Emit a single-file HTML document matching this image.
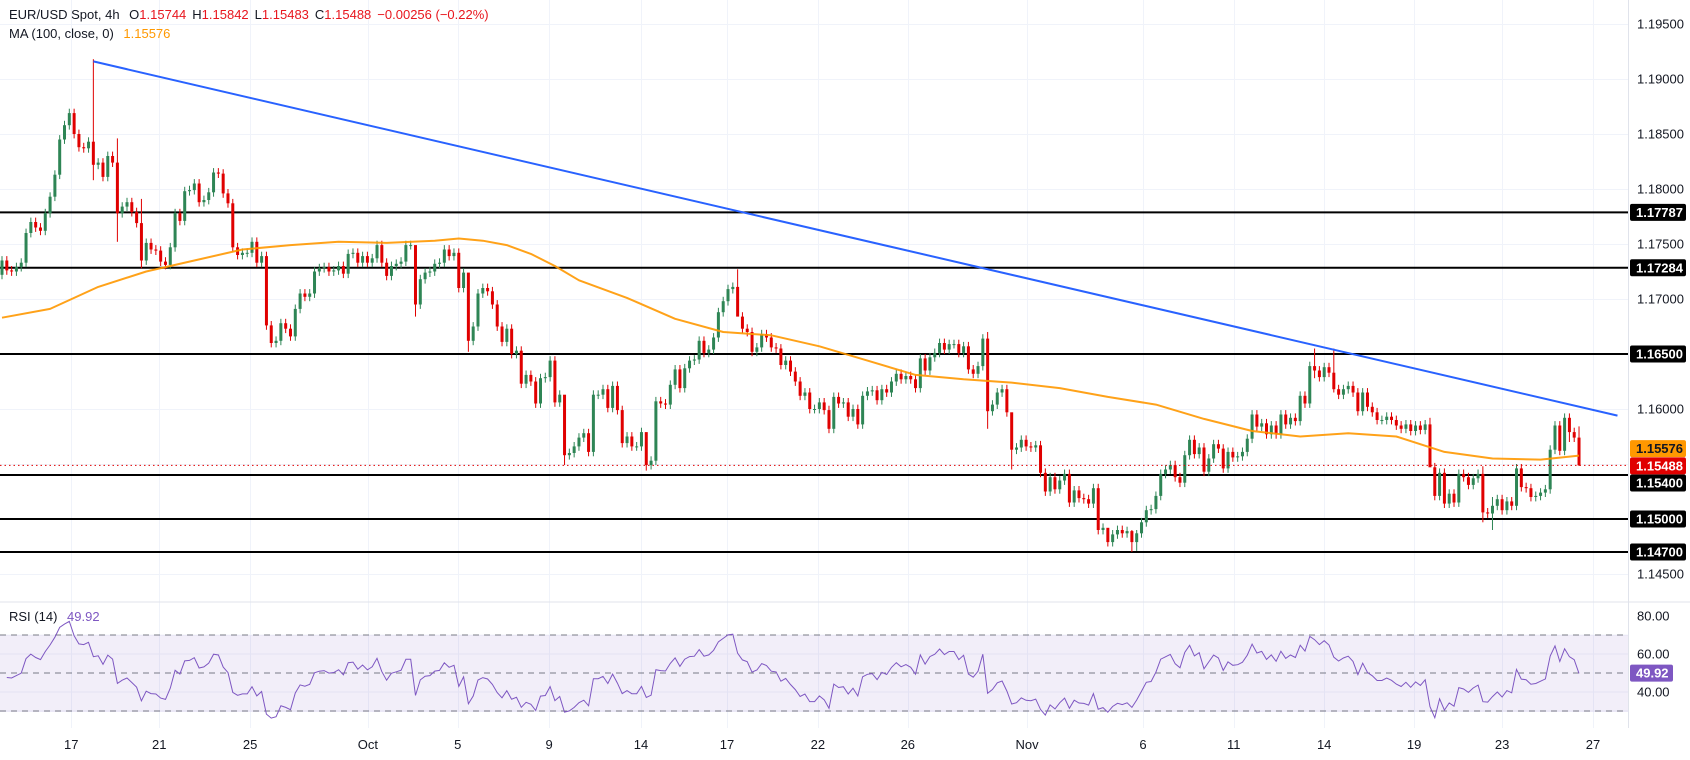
<!DOCTYPE html>
<html><head><meta charset="utf-8"><style>
html,body{margin:0;padding:0;background:#fff;}
svg{display:block;font-family:"Liberation Sans",sans-serif;}
</style></head><body>
<svg id="chart" width="1690" height="760" viewBox="0 0 1690 760" xmlns="http://www.w3.org/2000/svg">
<rect x="0" y="0" width="1690" height="760" fill="#ffffff"/>
<g id="grid"></g>
<rect x="0" y="635" width="1628" height="77" fill="#7e57c2" fill-opacity="0.1"/>
<g id="levels"></g>
<g id="candles"></g>
<g id="overlays"></g>
<g id="rsi"></g>
<g id="axes"></g>
<line x1="0" y1="602" x2="1690" y2="602" stroke="#e0e3eb" stroke-width="1"/>
<line x1="1628.5" y1="0" x2="1628.5" y2="728" stroke="#e0e3eb" stroke-width="1"/>
<text x="9" y="19" font-size="13" fill="#131722">EUR/USD Spot, 4h <tspan dx="6">O</tspan><tspan fill="#e8161e">1.15744</tspan><tspan dx="6">H</tspan><tspan fill="#e8161e">1.15842</tspan><tspan dx="6">L</tspan><tspan fill="#e8161e">1.15483</tspan><tspan dx="6">C</tspan><tspan fill="#e8161e">1.15488</tspan><tspan dx="6" fill="#e8161e">−0.00256 (−0.22%)</tspan></text>
<text x="9" y="38" font-size="13" fill="#131722">MA (100, close, 0) <tspan dx="6" fill="#ff9800">1.15576</tspan></text>
<text x="9" y="621" font-size="13" fill="#131722">RSI (14) <tspan dx="6" fill="#7e57c2">49.92</tspan></text>
</svg>
<script>
const closes=[1.1735,1.1726,1.1725,1.1729,1.1733,1.1760,1.1770,1.1765,1.1762,1.1778,
1.1793,1.1813,1.1845,1.1858,1.1869,1.1850,1.1838,1.1837,1.1843,1.1822,
1.1824,1.1811,1.1830,1.1824,1.1778,1.1784,1.1788,1.1779,1.1769,1.1735,
1.1751,1.1745,1.1744,1.1734,1.1731,1.1747,1.1778,1.1771,1.1798,1.1799,
1.1805,1.1788,1.1790,1.1797,1.1815,1.1814,1.1796,1.1787,1.1747,1.1740,
1.1742,1.1742,1.1752,1.1733,1.1739,1.1676,1.1660,1.1662,1.1678,1.1673,
1.1666,1.1691,1.1705,1.1702,1.1705,1.1725,1.1728,1.1729,1.1725,1.1726,
1.1730,1.1723,1.1741,1.1742,1.1733,1.1739,1.1733,1.1737,1.1749,1.1733,
1.1721,1.1730,1.1732,1.1734,1.1749,1.1749,1.1695,1.1718,1.1724,1.1725,
1.1732,1.1733,1.1745,1.1739,1.1742,1.1710,1.1724,1.1662,1.1675,1.1705,
1.1710,1.1707,1.1695,1.1675,1.1661,1.1673,1.1650,1.1653,1.1623,1.1631,
1.1625,1.1605,1.1628,1.1629,1.1644,1.1606,1.1613,1.1558,1.1560,1.1566,
1.1574,1.1578,1.1561,1.1613,1.1613,1.1618,1.1601,1.1621,1.1599,1.1569,
1.1575,1.1566,1.1566,1.1579,1.1549,1.1553,1.1607,1.1605,1.1604,1.1622,
1.1636,1.1619,1.1637,1.1644,1.1645,1.1662,1.1651,1.1654,1.1665,1.1688,
1.1698,1.1709,1.1711,1.1684,1.1673,1.1670,1.1652,1.1656,1.1668,1.1665,
1.1656,1.1655,1.1640,1.1644,1.1634,1.1625,1.1612,1.1615,1.1600,1.1600,
1.1606,1.1599,1.1582,1.1611,1.1605,1.1606,1.1593,1.1600,1.1586,1.1612,
1.1616,1.1617,1.1608,1.1618,1.1615,1.1625,1.1632,1.1627,1.1630,1.1627,
1.1619,1.1646,1.1635,1.1647,1.1651,1.1660,1.1654,1.1659,1.1659,1.1651,
1.1657,1.1636,1.1632,1.1639,1.1664,1.1598,1.1604,1.1615,1.1618,1.1597,
1.1563,1.1565,1.1572,1.1566,1.1565,1.1567,1.1542,1.1525,1.1538,1.1527,
1.1535,1.1541,1.1515,1.1526,1.1519,1.1518,1.1514,1.1528,1.1490,1.1492,
1.1479,1.1486,1.1490,1.1487,1.1489,1.1479,1.1487,1.1497,1.1508,1.1509,
1.1521,1.1541,1.1545,1.1549,1.1538,1.1533,1.1558,1.1572,1.1559,1.1565,
1.1543,1.1555,1.1568,1.1564,1.1546,1.1561,1.1556,1.1557,1.1561,1.1573,
1.1595,1.1584,1.1587,1.1577,1.1585,1.1577,1.1595,1.1586,1.1592,1.1589,
1.1612,1.1605,1.1639,1.1635,1.1629,1.1638,1.1633,1.1618,1.1613,1.1618,
1.1621,1.1615,1.1598,1.1615,1.1602,1.1597,1.1590,1.1590,1.1593,1.1590,
1.1585,1.1582,1.1586,1.1580,1.1585,1.1581,1.1586,1.1547,1.1521,1.1542,
1.1514,1.1523,1.1515,1.1541,1.1538,1.1531,1.1537,1.1541,1.1506,1.1505,
1.1512,1.1518,1.1508,1.1516,1.1512,1.1546,1.1529,1.1528,1.1520,1.1521,
1.1524,1.1527,1.1563,1.1585,1.1562,1.1592,1.1579,1.1574,1.15488];
const firstOpen=1.1722;
const wickIdx=[19,24,29,86,97,117,134,153,205,210,230,235,236,273,277,297,308,310,326,328];
const wickHigh=[1.1918,1.1846,1.1791,1.1732,1.1712,1.1562,1.1556,1.1727,1.1670,1.1568,1.1490,1.1490,1.1490,1.1655,1.1655,1.1592,1.1548,1.1520,1.1596,1.15842];
const wickLow=[1.1808,1.1752,1.1728,1.1684,1.1652,1.1549,1.1544,1.1705,1.1582,1.1545,1.1475,1.1470,1.1471,1.1628,1.1615,1.1570,1.1497,1.1490,1.1570,1.15483];
const defaultWickPips=[4];
const maIdx=[0,10,20,30,40,50,60,70,80,90,95,100,105,110,115,120,130,140,150,160,170,180,190,200,210,220,225,230,240,250,260,270,280,290,300,310,320,328];
const maVals=[1.1683,1.1691,1.1711,1.1725,1.1735,1.1745,1.1749,1.1752,1.1751,1.1753,1.1755,1.1753,1.1749,1.1741,1.1730,1.1717,1.1701,1.1682,1.1670,1.1667,1.1657,1.1644,1.1631,1.1627,1.1624,1.1619,1.1615,1.1611,1.1604,1.1591,1.1580,1.1575,1.1578,1.1575,1.1561,1.1555,1.1554,1.15576];
const trendIdx=[19,336];
const trendVals=[1.1916,1.1594];
const levels=[1.17787,1.17284,1.16500,1.15400,1.15000,1.14700];
const levelLabels=["1.17787","1.17284","1.16500","1.15400","1.15000","1.14700"];
const priceTicks=[1.195,1.19,1.185,1.18,1.175,1.17,1.165,1.16,1.155,1.15,1.145];
const priceTickLabels=["1.19500","1.19000","1.18500","1.18000","1.17500","1.17000","1.16500","1.16000","1.15500","1.15000","1.14500"];
const rsiTicks=[80,60,40];
const rsiTickLabels=["80.00","60.00","40.00"];
const rsiSeedAvg=[0.0007,0.0007];
const dateIdx=[14.4,32.7,51.6,76.1,94.8,113.8,132.9,150.8,169.7,188.4,213.2,237.3,256.2,275,293.7,312,330.9];
const dateLabels=["17","21","25","Oct","5","9","14","17","22","26","Nov","6","11","14","19","23","27"];
const lastPrice=[1.15488];
const maLast=[1.15576];
const rsiLast=[49.92];

const NS="http://www.w3.org/2000/svg";
const X=i=>2+4.808*i;
const Y=p=>24+(1.195-p)*11000;
const RY=v=>673-(v-50)*1.9;
function mk(tag,attrs,parent,txt){const e=document.createElementNS(NS,tag);for(const k in attrs)e.setAttribute(k,attrs[k]);if(txt!==undefined)e.textContent=txt;parent.appendChild(e);return e;}
const grid=document.getElementById('grid'),lv=document.getElementById('levels'),cg=document.getElementById('candles'),ov=document.getElementById('overlays'),rg=document.getElementById('rsi'),ax=document.getElementById('axes');

priceTicks.forEach((p,k)=>{const l=mk('line',{x1:0,x2:1628,y1:Y(p)+0.5,y2:Y(p)+0.5,stroke:'#f0f3fa','stroke-width':1},grid);


const t=mk('text',{x:1637,y:Y(p)+4.5,'font-size':13,fill:'#131722'},ax,priceTickLabels[k]);

});
[70,60,40,30].forEach(v=>{const l=mk('line',{x1:0,x2:1628,y1:RY(v),y2:RY(v),stroke:'#f0f3fa','stroke-width':1},grid);

});
dateIdx.forEach((d,k)=>{const x=Math.round(X(d))+0.5;const l=mk('line',{x1:x,x2:x,y1:0,y2:728,stroke:'#f0f3fa','stroke-width':1},grid);


const t=mk('text',{x:X(d),y:749,'font-size':13,fill:'#131722','text-anchor':'middle'},ax,dateLabels[k]);

});
rsiTicks.forEach((v,k)=>{const t=mk('text',{x:1637,y:RY(v)+4.5,'font-size':13,fill:'#131722'},ax,rsiTickLabels[k]);

});

levels.forEach((p,k)=>{const l=mk('line',{x1:0,x2:1628,y1:Y(p),y2:Y(p),stroke:'#000',"stroke-width":2},lv);

});

const wk=defaultWickPips[0]/10000;
closes.forEach((c,i)=>{const o=i===0?firstOpen:closes[i-1];let hi=Math.max(o,c)+wk,lo=Math.min(o,c)-wk;const w=wickIdx.indexOf(i);if(w>=0){hi=wickHigh[w];lo=wickLow[w];}
const col=c>=o?'#2e8555':'#e00000';const x=X(i);
const g=mk('g',{},cg);


mk('line',{x1:x,x2:x,y1:Y(hi),y2:Y(lo),stroke:col,'stroke-width':1},g);
const t=Y(Math.max(o,c)),b=Y(Math.min(o,c));mk('rect',{x:x-1.5,y:t,width:3,height:Math.max(1,b-t),fill:col},g);});

let d='';maIdx.forEach((i,k)=>{d+=(k?'L':'M')+X(i).toFixed(1)+','+Y(maVals[k]).toFixed(1);});
const ma=mk('path',{d:d,fill:'none',stroke:'#ff9800','stroke-width':2,'stroke-linejoin':'round','stroke-opacity':0.9},ov);


const tl=mk('line',{x1:X(trendIdx[0]),y1:Y(trendVals[0]),x2:X(trendIdx[1]),y2:Y(trendVals[1]),stroke:'#2962ff','stroke-width':2},ov);


const pl=mk('line',{x1:0,x2:1628,y1:Y(lastPrice[0]),y2:Y(lastPrice[0]),stroke:'#e00000','stroke-width':1,'stroke-dasharray':'1.5,3'},ov);



let ag=rsiSeedAvg[0],al=rsiSeedAvg[1];
const rsi=[];for(let i=1;i<closes.length;i++){const ch=closes[i]-closes[i-1];ag=(ag*13+Math.max(ch,0))/14;al=(al*13+Math.max(-ch,0))/14;rsi.push(al===0?100:100-100/(1+ag/al));}
[70,50,30].forEach(v=>{const l=mk('line',{x1:0,x2:1628,y1:RY(v),y2:RY(v),stroke:'#787b86','stroke-width':1,'stroke-dasharray':'6,5'},rg);

});
let rd='';rsi.forEach((v,k)=>{rd+=(k?'L':'M')+X(k+1).toFixed(1)+','+RY(v).toFixed(1);});
const rl=mk('path',{d:rd,fill:'none',stroke:'#7e57c2','stroke-width':1},rg);



function box(y,bg,fg,txt,name,w){const g=mk('g',{},ax);


mk('rect',{x:1630,y:y-8.5,width:w||56,height:17,rx:2,fill:bg},g);mk('text',{x:1636,y:y+4.5,'font-size':13,'font-weight':'bold',fill:fg},g,txt);}
levels.forEach((p,k)=>{let y=Y(p);if(k===3)y+=8;box(y,'#000','#fff',levelLabels[k],'level-label');});
box(Y(maLast[0])-7,'#ff9800','#131722',maLast[0].toFixed(5),'ma-price-label');
box(Y(lastPrice[0])+0.5,'#e00000','#fff',lastPrice[0].toFixed(5),'last-price-label');
box(RY(rsiLast[0]),'#7e57c2','#fff',rsiLast[0].toFixed(2),'rsi-value-label',43);
</script>
</body></html>
